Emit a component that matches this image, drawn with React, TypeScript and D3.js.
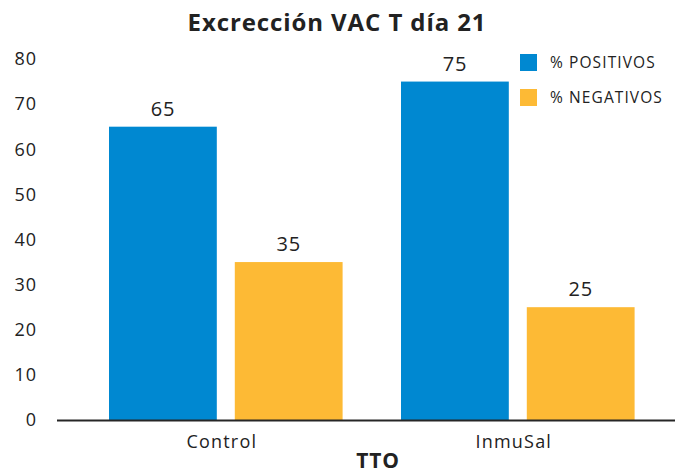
import React from "react";
import * as d3 from "d3";

const categories = ["Control", "InmuSal"];
const seriesNames = ["% POSITIVOS", "% NEGATIVOS"];
const positivos = [65, 75];
const negativos = [35, 25];
const yTicks = [0, 10, 20, 30, 40, 50, 60, 70, 80];
const colors = ["#0088D1", "#FDBA35"];

const W = 677;
const H = 473;
const FONT = "'Open Sans', 'Noto Sans', sans-serif";
const TEXT = "#222222";

export default function App() {
  const values = [positivos, negativos];
  const y = d3.scaleLinear().domain([0, 80]).range([420, 59]);
  const x0 = d3
    .scaleBand<string>()
    .domain(categories)
    .range([50.6, 693])
    .paddingInner(0.2)
    .paddingOuter(0.2);
  const x1 = d3
    .scaleBand<string>()
    .domain(seriesNames)
    .range([0, x0.bandwidth()])
    .paddingInner(0.143)
    .paddingOuter(0);

  return (
    <svg
      width={W}
      height={H}
      style={{ position: "absolute", left: 0, top: 0, background: "#fff" }}
    >
      <text
        x={337}
        y={31}
        textAnchor="middle"
        fontFamily={FONT}
        fontWeight={700}
        fontSize={24}
        letterSpacing={0.9}
        fill={TEXT}
      >
        Excrección VAC T día 21
      </text>

      {yTicks.map((t) => (
        <text
          key={t}
          x={37}
          y={y(t)}
          dy="0.35em"
          textAnchor="end"
          fontFamily={FONT}
          fontSize={18}
          letterSpacing={1}
          fill={TEXT}
        >
          {t}
        </text>
      ))}

      {categories.map((c, ci) =>
        seriesNames.map((s, si) => {
          const v = values[si][ci];
          const bx = (x0(c) as number) + (x1(s) as number);
          return (
            <g key={c + s}>
              <rect
                x={bx}
                y={y(v)}
                width={x1.bandwidth()}
                height={y(0) - y(v)}
                fill={colors[si]}
              />
              <text
                x={bx + x1.bandwidth() / 2}
                y={y(v) - 11}
                textAnchor="middle"
                fontFamily={FONT}
                fontSize={20}
                letterSpacing={0.8}
                fill={TEXT}
              >
                {v}
              </text>
            </g>
          );
        })
      )}

      <line x1={57} x2={675} y1={y(0) + 0.5} y2={y(0) + 0.5} stroke="#262626" strokeWidth={2} />

      {categories.map((c) => (
        <text
          key={c}
          x={(x0(c) as number) + x0.bandwidth() / 2 - 4}
          y={442}
          dy="0.35em"
          textAnchor="middle"
          fontFamily={FONT}
          fontSize={18}
          letterSpacing={1.2}
          fill={TEXT}
        >
          {c}
        </text>
      ))}

      <text
        x={378}
        y={461}
        dy="0.35em"
        textAnchor="middle"
        fontFamily={FONT}
        fontWeight={700}
        fontSize={21}
        letterSpacing={0.8}
        fill={TEXT}
      >
        TTO
      </text>

      {seriesNames.map((s, i) => (
        <g key={s} transform={`translate(520, ${54 + i * 35})`}>
          <rect width={17} height={17} fill={colors[i]} />
          <text
            x={30}
            y={9}
            dy="0.35em"
            fontFamily={FONT}
            fontSize={15.5}
            letterSpacing={1.1}
            fill={TEXT}
          >
            {s}
          </text>
        </g>
      ))}
    </svg>
  );
}
